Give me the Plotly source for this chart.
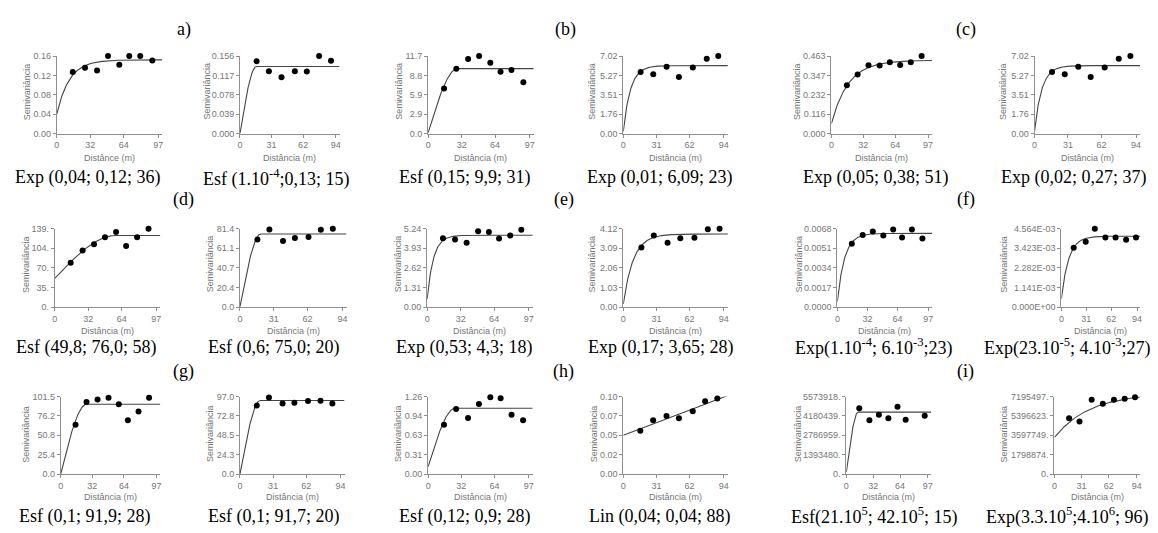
import numpy as np
import plotly.graph_objects as go

W, H = 1158, 533

# ---------------- data ----------------
captions = [
    "Exp (0,04; 0,12; 36)", "Esf (1.10<sup>-4</sup>;0,13; 15)", "Esf (0,15; 9,9; 31)",
    "Exp (0,01; 6,09; 23)", "Exp (0,05; 0,38; 51)", "Exp (0,02; 0,27; 37)",
    "Esf (49,8; 76,0; 58)", "Esf (0,6; 75,0; 20)", "Exp (0,53; 4,3; 18)",
    "Exp (0,17; 3,65; 28)", "Exp(1.10<sup>-4</sup>; 6.10<sup>-3</sup>;23)", "Exp(23.10<sup>-5</sup>; 4.10<sup>-3</sup>;27)",
    "Esf (0,1; 91,9; 28)", "Esf (0,1; 91,7; 20)", "Esf (0,12; 0,9; 28)",
    "Lin (0,04; 0,04; 88)", "Esf(21.10<sup>5</sup>; 42.10<sup>5</sup>; 15)", "Exp(3.3.10<sup>5</sup>;4.10<sup>6</sup>; 96)",
]
letters = ["a)", "(b)", "(c)", "(d)", "(e)", "(f)", "(g)", "(h)", "(i)"]

x_ticks_97 = [0, 32, 64, 97]
x_ticks_94 = [0, 31, 62, 94]

p01_dist = [15.3, 27, 38.5, 49, 59.8, 69.3, 79.8, 91.3]
p01_semi = [0.127, 0.136, 0.130, 0.160, 0.142, 0.160, 0.160, 0.151]
p01_model = ("exp", 0.04, 0.112, 36)
p01_yticks = ["0.00", "0.04", "0.08", "0.12", "0.16"]
p01_ymax = 0.16

p02_dist = [16.3, 28.4, 40.8, 53.9, 65.6, 77.7, 89.4]
p02_semi = [0.1454, 0.1255, 0.1135, 0.1255, 0.1248, 0.156, 0.1467]
p02_model = ("sph", 0.0001, 0.1347, 16)
p02_yticks = ["0.000", "0.039", "0.078", "0.117", "0.156"]
p02_ymax = 0.156

p03_dist = [15.2, 26.9, 38.2, 48.7, 59.4, 69.2, 79.6, 91]
p03_semi = [6.78, 9.79, 11.25, 11.7, 10.7, 9.34, 9.59, 7.73]
p03_model = ("sph", 0.15, 9.65, 28)
p03_yticks = ["0.0", "2.9", "5.9", "8.8", "11.7"]
p03_ymax = 11.7

p04_dist = [16.2, 28, 40.5, 52, 65, 78, 88.8]
p04_semi = [5.57, 5.37, 6.05, 5.13, 5.99, 6.78, 7.02]
p04_model = ("exp", 0.2, 5.95, 20)
p04_yticks = ["0.00", "1.76", "3.51", "5.27", "7.02"]
p04_ymax = 7.02

p05_dist = [15.5, 26.3, 37.2, 48.4, 58.6, 69, 79.6, 90.5]
p05_semi = [0.288, 0.353, 0.408, 0.406, 0.426, 0.410, 0.426, 0.463]
p05_model = ("exp", 0.06, 0.377, 51)
p05_yticks = ["0.000", "0.116", "0.232", "0.347", "0.463"]
p05_ymax = 0.463

p06_dist = [16.2, 28, 40.5, 52, 65, 78, 88.8]
p06_semi = [5.57, 5.37, 6.05, 5.13, 5.99, 6.78, 7.02]
p06_model = ("exp", 0.2, 5.95, 20)
p06_yticks = ["0.00", "1.76", "3.51", "5.27", "7.02"]
p06_ymax = 7.02

p07_dist = [15.2, 26.6, 37.5, 48, 58.6, 68.2, 78.7, 89.6]
p07_semi = [78.8, 100.5, 111.5, 123.8, 133.2, 108.6, 123.8, 139]
p07_model = ("sph", 51, 76, 58)
p07_yticks = ["0.", "35.", "70.", "104.", "139."]
p07_ymax = 139

p08_dist = [16, 27, 39.5, 50.4, 62.9, 74.2, 85.2]
p08_semi = [70.1, 80.7, 68.7, 71.8, 72.8, 80.4, 81.4]
p08_model = ("sph", 0.6, 75.3, 19)
p08_yticks = ["0.0", "20.4", "40.7", "61.1", "81.4"]
p08_ymax = 81.4

p09_dist = [15.1, 26.7, 37.7, 48.7, 59, 68.7, 79.4, 90]
p09_semi = [4.61, 4.52, 4.30, 5.07, 5.02, 4.59, 4.78, 5.17]
p09_model = ("exp", 0.55, 4.25, 18)
p09_yticks = ["0.00", "1.31", "2.62", "3.93", "5.24"]
p09_ymax = 5.24

p10_dist = [16.9, 28.5, 41.4, 53.3, 66.5, 79, 90]
p10_semi = [3.13, 3.77, 3.39, 3.62, 3.65, 4.09, 4.12]
p10_model = ("exp", 0.17, 3.67, 28)
p10_yticks = ["0.00", "1.03", "2.06", "3.09", "4.12"]
p10_ymax = 4.12

p11_dist = [15.4, 27, 37.8, 49, 59.5, 69, 79.5, 90.7]
p11_semi = [0.0055, 0.00625, 0.00657, 0.00622, 0.00674, 0.00605, 0.00674, 0.00596]
p11_model = ("exp", 0.0005, 0.0059, 23)
p11_yticks = ["0.0000", "0.0017", "0.0034", "0.0051", "0.0068"]
p11_ymax = 0.0068

p12_dist = [15.3, 30.2, 41.5, 54.7, 67.3, 80.4, 92.7]
p12_semi = [0.003457, 0.003807, 0.004564, 0.004059, 0.004059, 0.003923, 0.004059]
p12_model = ("exp", 0.0005, 0.00363, 27)
p12_yticks = ["0.000E+00", "1.141E-03", "2.282E-03", "3.423E-03", "4.564E-03"]
p12_ymax = 0.004564

p13_dist = [15, 26.1, 37.3, 48.4, 58.8, 68, 78.8, 89.5]
p13_semi = [64.6, 94.3, 97.7, 99.8, 91.3, 70.5, 82, 99.8]
p13_model = ("sph", 0.1, 91.2, 26)
p13_yticks = ["0.0", "25.4", "50.8", "76.2", "101.5"]
p13_ymax = 101.5

p14_dist = [15.7, 27.1, 39.8, 50.9, 63.6, 75.3, 86.4]
p14_semi = [85.6, 95.8, 88.1, 89.3, 91.3, 91.7, 88.1]
p14_model = ("sph", 0.1, 92, 19)
p14_yticks = ["0.0", "24.3", "48.5", "72.8", "97.0"]
p14_ymax = 97.0

p15_dist = [15.3, 27, 38.5, 49, 60, 69.9, 80.5, 91.6]
p15_semi = [0.799, 1.056, 0.911, 1.137, 1.249, 1.233, 0.965, 0.874]
p15_model = ("sph", 0.12, 0.95, 26)
p15_yticks = ["0.00", "0.31", "0.63", "0.94", "1.26"]
p15_ymax = 1.26

p16_dist = [15.9, 27.9, 40.4, 52, 64.9, 76.5, 87.9]
p16_semi = [0.0557, 0.0694, 0.0749, 0.0719, 0.0809, 0.0940, 0.0974]
p16_model = ("lin", 0.05, 0.000525, None)
p16_yticks = ["0.00", "0.02", "0.05", "0.07", "0.10"]
p16_ymax = 0.10

p17_dist = [15.4, 27.5, 38.8, 50.1, 61, 70.7, 81.6, 93.4]
p17_semi = [4.737e6, 3.875e6, 4.258e6, 4.019e6, 4.832e6, 3.899e6, 5.574e6, 4.186e6]
p17_model = ("sph", 0.15e6, 4.3e6, 14)
p17_yticks = ["0.", "1393480.", "2786959.", "4180439.", "5573918."]
p17_ymax = 5573918

p18_dist = [16.7, 28.6, 42.5, 55.2, 67.9, 80.2, 92]
p18_semi = [5.188e6, 4.879e6, 6.886e6, 6.516e6, 6.886e6, 6.979e6, 7.134e6]
p18_model = ("exp", 3.4e6, 4.1e6, 120)
p18_yticks = ["0.", "1798874.", "3597749.", "5396623.", "7195497."]
p18_ymax = 7195497

dists = [p01_dist, p02_dist, p03_dist, p04_dist, p05_dist, p06_dist, p07_dist, p08_dist, p09_dist,
         p10_dist, p11_dist, p12_dist, p13_dist, p14_dist, p15_dist, p16_dist, p17_dist, p18_dist]
semis = [p01_semi, p02_semi, p03_semi, p04_semi, p05_semi, p06_semi, p07_semi, p08_semi, p09_semi,
         p10_semi, p11_semi, p12_semi, p13_semi, p14_semi, p15_semi, p16_semi, p17_semi, p18_semi]
models = [p01_model, p02_model, p03_model, p04_model, p05_model, p06_model, p07_model, p08_model, p09_model,
          p10_model, p11_model, p12_model, p13_model, p14_model, p15_model, p16_model, p17_model, p18_model]
yticks = [p01_yticks, p02_yticks, p03_yticks, p04_yticks, p05_yticks, p06_yticks, p07_yticks, p08_yticks, p09_yticks,
          p10_yticks, p11_yticks, p12_yticks, p13_yticks, p14_yticks, p15_yticks, p16_yticks, p17_yticks, p18_yticks]
ymaxs = [p01_ymax, p02_ymax, p03_ymax, p04_ymax, p05_ymax, p06_ymax, p07_ymax, p08_ymax, p09_ymax,
         p10_ymax, p11_ymax, p12_ymax, p13_ymax, p14_ymax, p15_ymax, p16_ymax, p17_ymax, p18_ymax]

# ---------------- layout (pixel positions) ----------------
col_px = [
    (54, 160), (238, 338), (427, 533), (623, 728), (832, 933), (1036, 1142),
    (52, 158), (238, 345), (426, 532), (623, 728), (838, 933), (1063, 1142),
    (58, 158), (238, 343), (427, 532), (623, 728), (847, 932), (1056, 1142),
]
row_px = [(52, 131), (228, 308), (399, 478)]
ytitle_x = [24, 205, 398, 592, 798, 1005,
            23, 208, 397, 592, 800, 1005,
            23, 208, 397, 593, 798, 1005]
ytitle_y = [88, 264, 437]
xtitle_y = [156, 332, 501]
cap_x = [85, 275, 463, 660, 877, 1076,
         83, 272, 464, 661, 875, 1069,
         82, 272, 463, 660, 875, 1069]
cap_y = [176, 349, 521]
letter_pos = [(182, 25), (565, 25), (967, 25),
              (181, 198), (563, 198), (967, 198),
              (181, 373), (563, 373), (967, 373)]

AX = "#8f8f8f"
TXT = "#777777"
SANS = "Liberation Sans, Arial, sans-serif"
SERIF = "Liberation Serif, Times New Roman, serif"


def model_curve(m, h):
    kind, c0, c1, a = m
    if kind == "exp":
        return c0 + c1 * (1 - np.exp(-3 * h / a))
    if kind == "sph":
        r = np.minimum(h / a, 1.0)
        return c0 + c1 * (1.5 * r - 0.5 * r ** 3)
    return c0 + c1 * h


fig = go.Figure()
layout = {}
annotations = []

for i in range(18):
    k = i + 1
    row = i // 6
    col = i % 6
    xt = x_ticks_97 if col % 2 == 0 else x_ticks_94
    xend = xt[-1] * 1.04
    xa = "x" if k == 1 else f"x{k}"
    ya = "y" if k == 1 else f"y{k}"
    x0, x1 = col_px[i]
    y0, y1 = row_px[row]

    h = np.linspace(0, xend, 300)
    fig.add_trace(go.Scatter(x=h, y=model_curve(models[i], h), mode="lines",
                             line=dict(color="#444444", width=1.1),
                             xaxis=xa, yaxis=ya, showlegend=False, hoverinfo="skip",
                             cliponaxis=False))
    fig.add_trace(go.Scatter(x=dists[i], y=semis[i], mode="markers",
                             marker=dict(color="black", size=6),
                             xaxis=xa, yaxis=ya, showlegend=False, cliponaxis=False))

    ymax = ymaxs[i]
    ytv = [ymax * j / 4 for j in range(5)]
    common = dict(showline=True, linecolor=AX, linewidth=1, ticks="outside", ticklen=3,
                  tickcolor=AX, tickwidth=1, showgrid=False, zeroline=False,
                  tickfont=dict(family=SANS, size=9, color=TXT), fixedrange=True)
    layout["xaxis" if k == 1 else f"xaxis{k}"] = dict(
        domain=[x0 / W, x1 / W], anchor=ya, range=[0, xend],
        tickvals=xt, ticktext=[str(v) for v in xt], **common)
    layout["yaxis" if k == 1 else f"yaxis{k}"] = dict(
        domain=[1 - y1 / H, 1 - y0 / H], anchor=xa, range=[0, ymax],
        tickvals=ytv, ticktext=yticks[i], **common)

    annotations.append(dict(text="Semivariância", x=ytitle_x[i] / W, y=1 - ytitle_y[row] / H,
                            xref="paper", yref="paper", showarrow=False, textangle=-90,
                            xanchor="center", yanchor="middle",
                            font=dict(family=SANS, size=9, color=TXT)))
    annotations.append(dict(text="Distânce (m)" if k == 1 else "Distância (m)",
                            x=(x0 + x1) / 2 / W, y=1 - xtitle_y[row] / H,
                            xref="paper", yref="paper", showarrow=False,
                            xanchor="center", yanchor="middle",
                            font=dict(family=SANS, size=9, color=TXT)))
    annotations.append(dict(text=captions[i], x=cap_x[i] / W, y=1 - cap_y[row] / H,
                            xref="paper", yref="paper", showarrow=False,
                            xanchor="center", yanchor="middle",
                            font=dict(family=SERIF, size=18, color="black")))

for lt, (lx, ly) in zip(letters, letter_pos):
    annotations.append(dict(text=lt, x=lx / W, y=1 - ly / H, xref="paper", yref="paper",
                            showarrow=False, xanchor="center", yanchor="middle",
                            font=dict(family=SERIF, size=18, color="black")))

fig.update_layout(**layout)
fig.update_layout(width=W, height=H, margin=dict(l=0, r=0, t=0, b=0),
                  paper_bgcolor="white", plot_bgcolor="white",
                  annotations=annotations, showlegend=False)

fig.write_html("out.html", config={"displayModeBar": False},
               post_script="document.body.style.margin='0px';document.body.style.overflow='hidden';")
